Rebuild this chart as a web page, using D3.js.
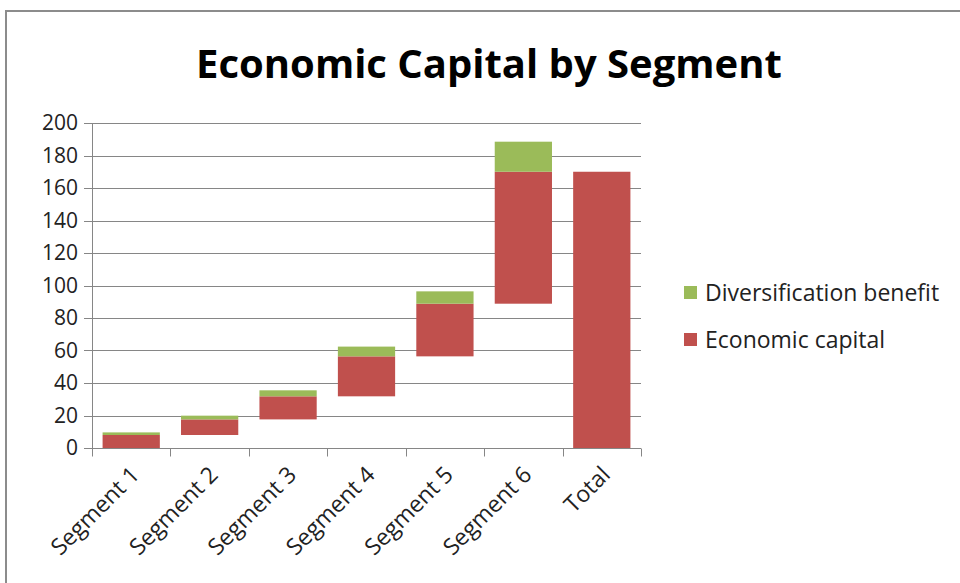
<!DOCTYPE html>
<html>
  <head>
    <meta charset="utf-8">
    <title>Economic Capital by Segment</title>
    <script src="https://d3js.org/d3.v7.min.js"></script>
    <style>
      body { margin: 0; background: #fff; }
      text { font-family: "Open Sans", "Noto Sans", sans-serif; fill: #222; }
      .title { font-weight: bold; fill: #000; }
    </style>
  </head>
  <body>
    <svg id="chart" width="960" height="583"></svg>
    <script>
      // data
      var segments = ["Segment 1", "Segment 2", "Segment 3", "Segment 4", "Segment 5", "Segment 6", "Total"];
      var base = [0, 8, 17.6, 31.8, 56.4, 88.8, 0];          // invisible floor of each bar
      var econCapital = [8, 9.6, 14.2, 24.6, 32.4, 81.2, 170];
      var divBenefit = [1.6, 2.3, 3.7, 6, 7.6, 18.5, 0];
      var yTicks = [0, 20, 40, 60, 80, 100, 120, 140, 160, 180, 200];

      var colours = { econ: "#C0504D", div: "#9BBB59", grid: "#868686" };
      var margin = { top: 123, left: 92, right: 320, bottom: 135 };
      var width = 960, height = 583;

      var svg = d3.select("#chart");

      // outer frame
      svg.append("rect")
        .attr("x", 6).attr("y", 11)
        .attr("width", 970).attr("height", 600)
        .attr("fill", "none")
        .attr("stroke", "#8c8c8c")
        .attr("stroke-width", 2);

      svg.append("text")
        .attr("class", "title")
        .attr("x", 489).attr("y", 78)
        .attr("text-anchor", "middle")
        .style("font-size", "40px")
        .text("Economic Capital by Segment");

      var x = d3.scaleBand()
        .domain(segments)
        .range([margin.left, 641])
        .paddingInner(0.27)
        .paddingOuter(0.135);

      var y = d3.scaleLinear()
        .domain([0, 200])
        .range([448, margin.top]);

      // gridlines
      svg.append("g")
        .selectAll("line")
        .data(yTicks)
        .join("line")
          .attr("x1", margin.left - 8)
          .attr("x2", 641)
          .attr("y1", function(d) { return Math.round(y(d)) + 0.5; })
          .attr("y2", function(d) { return Math.round(y(d)) + 0.5; })
          .attr("stroke", colours.grid)
          .attr("stroke-width", 1);

      // y axis labels
      var yAxis = d3.axisLeft(y)
        .tickValues(yTicks)
        .tickSize(0)
        .tickPadding(14);
      var yAxisGroup = svg.append("g")
        .attr("transform", "translate(" + (margin.left) + ",0)")
        .call(yAxis);
      yAxisGroup.select(".domain").remove();
      yAxisGroup.selectAll("text")
        .style("font-size", "21px")
        .attr("fill", "#222");

      // bars
      var rows = segments.map(function(s, i) {
        return { seg: s, base: base[i], econ: econCapital[i], div: divBenefit[i] };
      });
      var bars = svg.append("g");
      bars.selectAll(".econ")
        .data(rows)
        .join("rect")
          .attr("class", "econ")
          .attr("x", function(d) { return x(d.seg); })
          .attr("width", x.bandwidth())
          .attr("y", function(d) { return y(d.base + d.econ); })
          .attr("height", function(d) { return y(d.base) - y(d.base + d.econ); })
          .attr("fill", colours.econ);
      bars.selectAll(".div")
        .data(rows.filter(function(d) { return d.div > 0; }))
        .join("rect")
          .attr("class", "div")
          .attr("x", function(d) { return x(d.seg); })
          .attr("width", x.bandwidth())
          .attr("y", function(d) { return y(d.base + d.econ + d.div); })
          .attr("height", function(d) { return y(d.base + d.econ) - y(d.base + d.econ + d.div); })
          .attr("fill", colours.div);

      // y axis line
      svg.append("line")
        .attr("x1", margin.left + 0.5).attr("x2", margin.left + 0.5)
        .attr("y1", y(200)).attr("y2", y(0))
        .attr("stroke", colours.grid);

      // x axis with tick marks at band edges
      var xAxisGroup = svg.append("g")
        .attr("transform", "translate(0," + (Math.round(y(0)) + 0.5) + ")");
      xAxisGroup.append("line")
        .attr("x1", margin.left).attr("x2", 641)
        .attr("stroke", colours.grid);
      var edges = d3.range(segments.length + 1).map(function(i) { return margin.left + i * (641 - margin.left) / segments.length; });
      xAxisGroup.selectAll(".tick")
        .data(edges)
        .join("line")
          .attr("class", "tick")
          .attr("x1", function(d) { return Math.round(d) + 0.5; })
          .attr("x2", function(d) { return Math.round(d) + 0.5; })
          .attr("y1", 0).attr("y2", 8)
          .attr("stroke", colours.grid);
      xAxisGroup.selectAll(".label")
        .data(segments)
        .join("text")
          .attr("class", "label")
          .attr("text-anchor", "end")
          .attr("transform", function(d) {
            return "translate(" + (x(d) + x.bandwidth() / 2 + 4) + ",22) rotate(-45)";
          })
          .attr("dy", "0.35em")
          .style("font-size", "23px")
          .text(function(d) { return d; });

      // legend
      var legendItems = [
        { label: "Diversification benefit", colour: colours.div, y: 293 },
        { label: "Economic capital", colour: colours.econ, y: 340 }
      ];
      var legend = svg.append("g")
        .selectAll("g")
        .data(legendItems)
        .join("g")
          .attr("transform", function(d) { return "translate(684," + d.y + ")"; });
      legend.append("rect")
        .attr("x", 0).attr("y", -7)
        .attr("width", 13).attr("height", 13)
        .attr("fill", function(d) { return d.colour; });
      legend.append("text")
        .attr("x", 21)
        .attr("dy", "0.35em")
        .style("font-size", "23px")
        .text(function(d) { return d.label; });
    </script>
  </body>
</html>
